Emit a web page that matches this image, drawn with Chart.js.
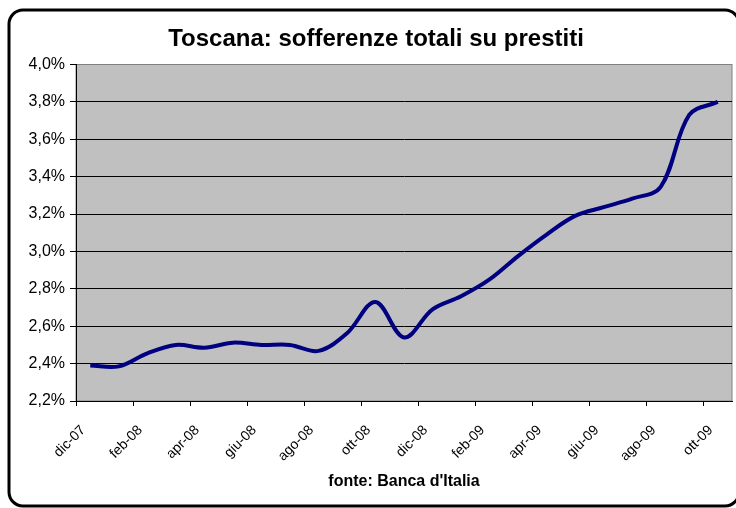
<!DOCTYPE html>
<html>
<head>
<meta charset="utf-8">
<script src="https://cdn.jsdelivr.net/npm/chart.js@4"></script>
<style>
html,body{margin:0;padding:0;background:#fff;}
#wrap{width:736px;height:508px;}
</style>
</head>
<body>
<div id="wrap"><canvas id="c" width="736" height="508"></canvas></div>
<script>
const months = ['dic-07','gen-08','feb-08','mar-08','apr-08','mag-08','giu-08','lug-08','ago-08','set-08','ott-08','nov-08','dic-08','gen-09','feb-09','mar-09','apr-09','mag-09','giu-09','lug-09','ago-09','set-09','ott-09'];
const sofferenze = [2.39, 2.385, 2.455, 2.50, 2.485, 2.512, 2.50, 2.50, 2.468, 2.562, 2.73, 2.54, 2.69, 2.76, 2.85, 2.975, 3.09, 3.19, 3.237, 3.282, 3.345, 3.73, 3.80];
const yMin = 2.2, yMax = 4.0, yStep = 0.2;
const titleText = 'Toscana: sofferenze totali su prestiti';
const sourceText = "fonte: Banca d'Italia";

const frame = {
  id: 'frame',
  beforeDraw(chart) {
    const {ctx, chartArea: a} = chart;
    ctx.save();
    ctx.fillStyle = '#fff';
    ctx.fillRect(0, 0, chart.width, chart.height);
    ctx.fillStyle = '#C0C0C0';
    ctx.fillRect(a.left, a.top, a.right - a.left, a.bottom - a.top);
    ctx.strokeStyle = '#808080';
    ctx.lineWidth = 1;
    ctx.strokeRect(a.left, a.top, a.right - a.left, a.bottom - a.top);
    ctx.strokeStyle = '#000';
    ctx.lineWidth = 3;
    ctx.beginPath();
    ctx.roundRect(9, 10, 730, 496, 14);
    ctx.stroke();
    ctx.restore();
  }
};

new Chart(document.getElementById('c'), {
  type: 'line',
  data: {
    labels: months,
    datasets: [{
      data: sofferenze,
      borderColor: '#000080',
      borderWidth: 4,
      pointRadius: 0,
      tension: 0.35,
      fill: false
    }]
  },
  options: {
    responsive: false,
    animation: false,
    layout: { padding: { top: 12, left: 20, right: 4, bottom: 0 } },
    plugins: {
      legend: { display: false },
      tooltip: { enabled: false },
      title: {
        display: true,
        text: titleText,
        color: '#000',
        font: { family: 'Liberation Sans', size: 24, weight: 'bold' },
        padding: { top: 12.6, bottom: 11.1 }
      }
    },
    scales: {
      x: {
        type: 'category',
        offset: true,
        afterFit(scale) { scale.height = 107; scale.paddingLeft = 0; scale.paddingRight = 0; },
        grid: {
          offset: true,
          drawOnChartArea: false,
          drawTicks: true,
          tickLength: 5,
          tickColor: (c) => (c.index !== undefined && c.index % 2 === 0) ? '#000' : 'rgba(0,0,0,0)',
          color: 'rgba(0,0,0,0)'
        },
        border: { color: '#000', width: 1 },
        ticks: {
          autoSkip: false,
          maxRotation: 45,
          minRotation: 45,
          labelOffset: -7,
          padding: 16,
          color: '#000',
          font: { family: 'Liberation Sans', size: 14 },
          callback: (v, i) => (i % 2 === 0 ? months[i] : '')
        },
        title: {
          display: true,
          text: sourceText,
          color: '#000',
          font: { family: 'Liberation Sans', size: 16, weight: 'bold' },
          padding: { top: 0, bottom: 16.4 }
        }
      },
      y: {
        min: yMin,
        max: yMax,
        afterFit(scale) { scale.width = 56; },
        grid: {
          color: (c) => (c.tick && Math.abs(c.tick.value - yMax) < 1e-6) ? '#808080' : '#000',
          tickColor: '#000',
          tickLength: 6,
          lineWidth: 1
        },
        border: { color: '#000', width: 1 },
        ticks: {
          stepSize: yStep,
          padding: 5,
          color: '#000',
          font: { family: 'Liberation Sans', size: 16 },
          callback: (v) => (Math.round(v * 10) / 10).toFixed(1).replace('.', ',') + '%'
        }
      }
    }
  },
  plugins: [frame]
});
</script>
</body>
</html>
